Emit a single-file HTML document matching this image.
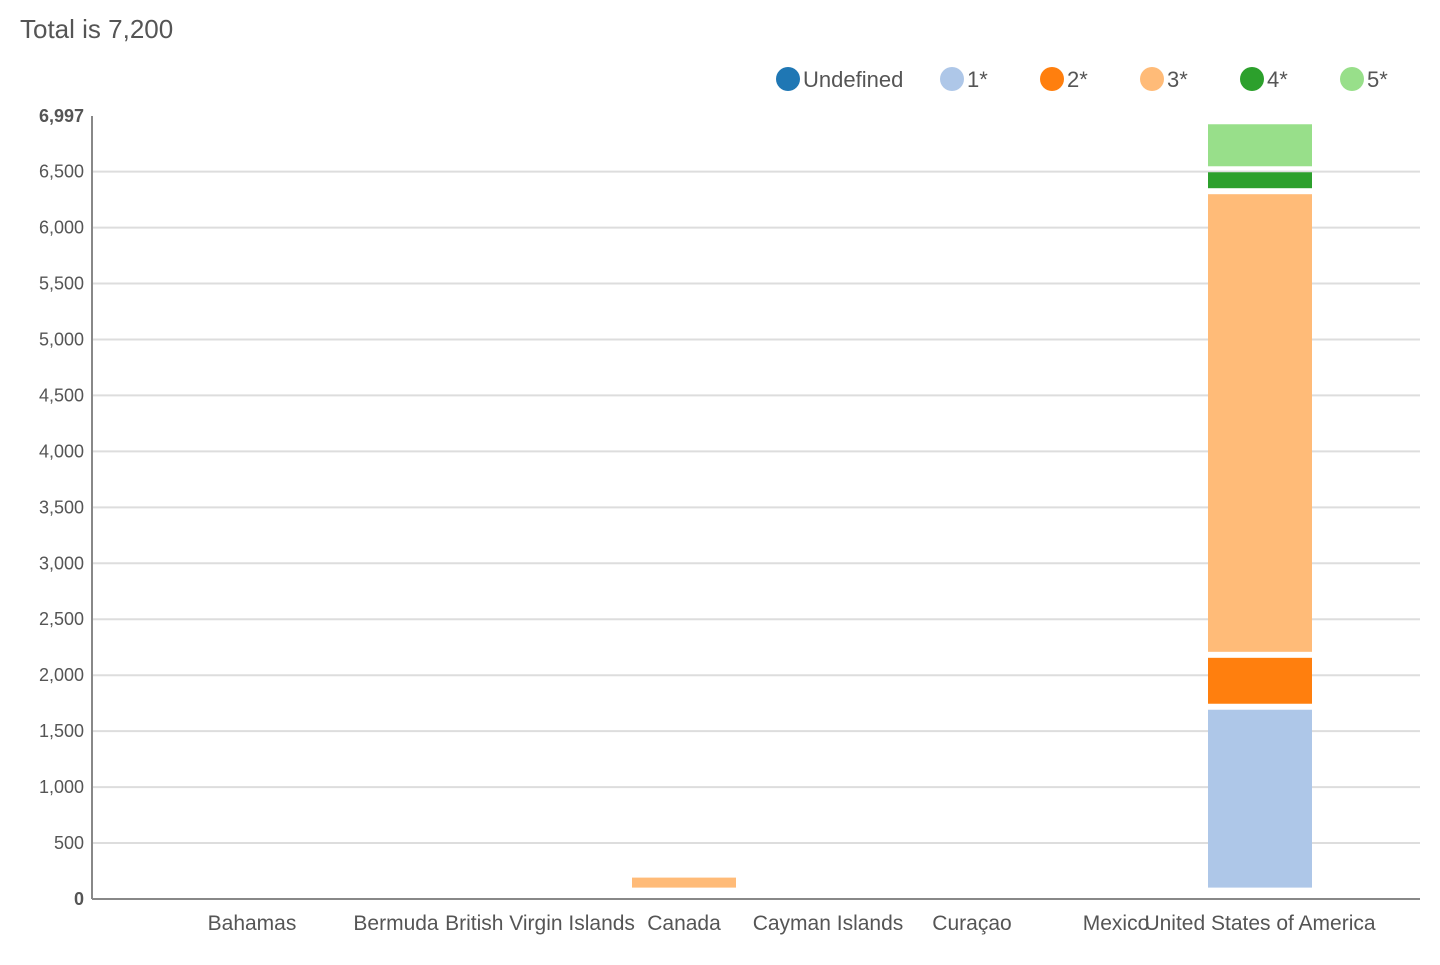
<!DOCTYPE html>
<html><head><meta charset="utf-8"><style>
body{margin:0;background:#fff;font-family:"Liberation Sans",Arial,sans-serif;}
svg text{font-family:"Liberation Sans",Arial,sans-serif;}
</style></head><body>
<svg id="chart" width="1440" height="960">
<text x="20" y="38" font-size="26" fill="#555">Total is 7,200</text>
<g id="legend"></g>
<g id="grid"></g>
<g id="yticks"></g>
<g id="bars"></g>
<g id="xticks"></g>
<line x1="92" y1="116" x2="92" y2="899" stroke="#888" stroke-width="2"/>
<line x1="92" y1="899" x2="1420" y2="899" stroke="#888" stroke-width="2"/>
</svg>
<script>
const categories=["Bahamas","Bermuda","British Virgin Islands","Canada","Cayman Islands","Curaçao","Mexico","United States of America"];
const seriesNames=["Undefined","1*","2*","3*","4*","5*"];
const seriesColors=["#1f77b4","#aec7e8","#ff7f0e","#ffbb78","#2ca02c","#98df8a"];
const sUndefined=[0,0,0,0,0,0,0,0];
const s1=[0,0,0,0,0,0,0,1643];
const s2=[0,0,0,0,0,0,0,464];
const s3=[0,0,0,143,0,0,0,4143];
const s4=[0,0,0,0,0,0,0,196];
const s5=[0,0,0,0,0,0,0,429];
const yTicks=[0,500,1000,1500,2000,2500,3000,3500,4000,4500,5000,5500,6000,6500];
const yMax=6997;
const baseOffset=75;
const NS="http://www.w3.org/2000/svg";
const y=v=>899-v*(783/yMax);
const x=i=>252+144*i;
function mk(t,a,p){const e=document.createElementNS(NS,t);for(const k in a)e.setAttribute(k,a[k]);p.appendChild(e);return e;}
const grid=document.getElementById('grid'),yt=document.getElementById('yticks');
yTicks.forEach(v=>{
 if(v>0){const l=mk('line',{x1:92,x2:1420,y1:y(v),y2:y(v),stroke:'#ddd','stroke-width':2},grid);
 
 }
 const t=mk('text',{x:84,y:y(v)+6,'font-size':18,fill:'#555','text-anchor':'end','font-weight':v===0?'bold':'normal'},yt);
 t.textContent=v.toLocaleString('en-US');
 
 
});
const tm=mk('text',{x:84,y:y(yMax)+6,'font-size':18,fill:'#555','text-anchor':'end','font-weight':'bold'},yt);
tm.textContent=yMax.toLocaleString('en-US');


const xt=document.getElementById('xticks');
categories.forEach((c,i)=>{
 const t=mk('text',{x:x(i),y:930,'font-size':21,fill:'#555','text-anchor':'middle'},xt);
 t.textContent=c;
 
 
});
const series=[sUndefined,s1,s2,s3,s4,s5];
const bars=document.getElementById('bars');
categories.forEach((c,i)=>{
 let acc=baseOffset;
 series.forEach((s,k)=>{
  const v=s[i]; if(!v)return;
  const y0=y(acc),y1=y(acc+v);acc+=v;
  const r=mk('rect',{x:x(i)-52,y:y1+3,width:104,height:Math.max(0,y0-y1-6),fill:seriesColors[k]},bars);
  
  
 });
});
const lg=document.getElementById('legend');
const lx=[788,952,1052,1152,1252,1352];
seriesNames.forEach((n,k)=>{
 const c=mk('circle',{cx:lx[k],cy:79,r:12,fill:seriesColors[k]},lg);
 
 
 const t=mk('text',{x:lx[k]+15,y:87,'font-size':22,fill:'#555'},lg);
 t.textContent=n;
 
 
});
</script>
</body></html>
